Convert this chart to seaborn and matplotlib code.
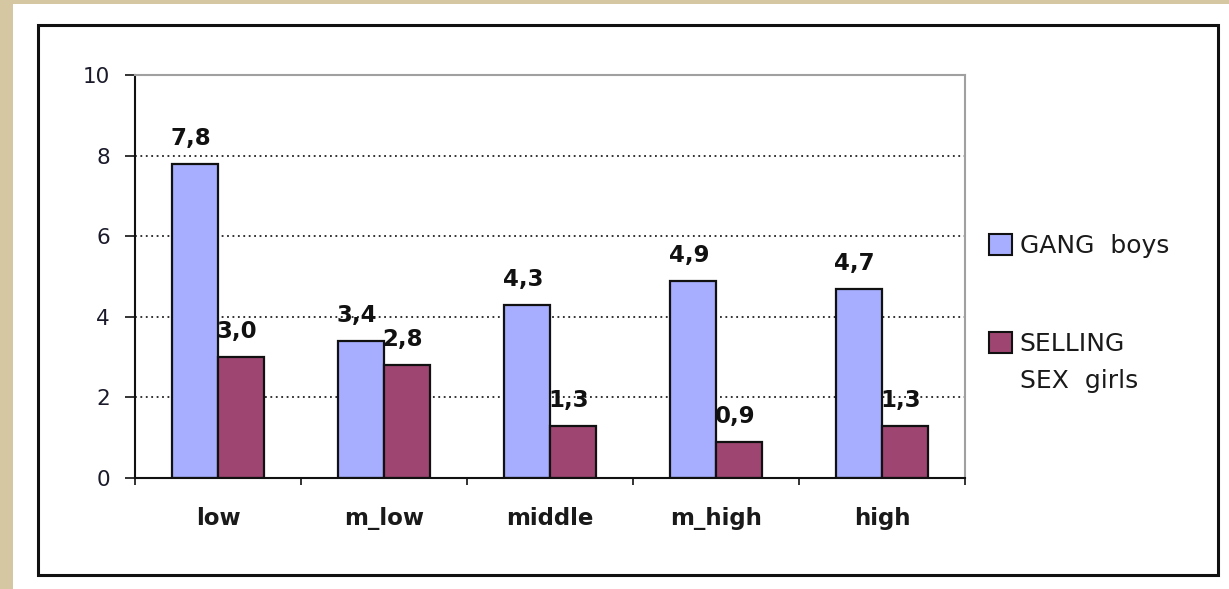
import matplotlib
matplotlib.use("Agg")
import matplotlib.pyplot as plt
import seaborn as sns
import pandas as pd
from matplotlib.patches import Rectangle

categories = ["low", "m_low", "middle", "m_high", "high"]
gang_boys = [7.8, 3.4, 4.3, 4.9, 4.7]
selling_sex_girls = [3.0, 2.8, 1.3, 0.9, 1.3]
series_names = ["GANG  boys", "SELLING"]
series2_second_line = "SEX  girls"
y_ticks = [0, 2, 4, 6, 8, 10]

df = pd.DataFrame({
    "cat": categories * 2,
    "val": gang_boys + selling_sex_girls,
    "series": [series_names[0]] * 5 + [series_names[1]] * 5,
})

sns.set_theme(style="white")
plt.rcParams["font.family"] = ["DejaVu Sans"]

W, H = 1229, 589
fig = plt.figure(figsize=(W / 100, H / 100), dpi=100)
fig.patch.set_facecolor("#d4c7a2")
# white card
fig.patches.append(Rectangle((13 / W, 0), (W - 13) / W, (H - 4) / H,
                             transform=fig.transFigure, facecolor="white",
                             edgecolor="none", zorder=-3))
# black border
fig.patches.append(Rectangle((38 / W, 1 - 575 / H), (1218 - 38) / W, (575 - 25) / H,
                             transform=fig.transFigure, facecolor="none",
                             edgecolor="#111111", linewidth=2.2, zorder=-2))

ax = fig.add_axes([135 / W, 1 - 478 / H, (965 - 135) / W, (478 - 75) / H])
ax.set_facecolor("white")

colors = ["#a7aeff", "#9e4671"]
sns.barplot(data=df, x="cat", y="val", hue="series", palette=colors,
            width=0.555, gap=0, edgecolor="#111111", linewidth=1.6,
            ax=ax, legend=True, saturation=1)

ax.set_ylim(0, 10)
ax.set_xlim(-0.5, 4.5)
ax.set_yticks(y_ticks)
ax.set_yticklabels([str(t) for t in y_ticks], fontsize=15.5, color="#1a1a2a")
ax.set_xlabel("")
ax.set_ylabel("")
ax.tick_params(axis="y", direction="out", length=7, width=1.2, color="#111111", pad=11, left=True)
ax.set_xticks(range(len(categories)))
ax.set_xticklabels(categories, fontsize=16.5, fontweight="bold", color="#1a1a1a")
ax.tick_params(axis="x", length=0, pad=21)
ax.set_xticks([i + 0.5 for i in range(-1, 5)], minor=True)
ax.tick_params(axis="x", which="minor", direction="out", length=5, width=1.2, color="#111111", bottom=True)

for y in [2, 4, 6, 8]:
    ax.axhline(y, color="#222222", linestyle=(0, (1, 2)), linewidth=1.3, zorder=0)

for s in ["left", "bottom"]:
    ax.spines[s].set_color("#111111")
    ax.spines[s].set_linewidth(1.5)
for s in ["top", "right"]:
    ax.spines[s].set_color("#a0a0a0")
    ax.spines[s].set_linewidth(1.5)

for container in ax.containers:
    for bar in container:
        h = bar.get_height()
        ax.annotate(f"{h:.1f}".replace(".", ","),
                    (bar.get_x() + bar.get_width() / 2, h),
                    xytext=(-3, 13.5), textcoords="offset points",
                    ha="center", va="baseline", fontsize=16.5, fontweight="bold",
                    color="#111111", zorder=5)

handles, labels = ax.get_legend_handles_labels()
ax.legend_.remove()
leg = fig.legend(handles, labels, loc="upper left",
                 bbox_to_anchor=(989 / W, 1 - 234 / H), frameon=False,
                 fontsize=18, handlelength=0.92, handleheight=0.92,
                 handletextpad=0.3, labelspacing=2.95, borderaxespad=0,
                 borderpad=0)
for h in leg.legend_handles:
    h.set_edgecolor("#111111")
    h.set_linewidth(1.5)
for t in leg.get_texts():
    t.set_color("#1a1a1a")
fig.text(1020 / W, 1 - 381 / H, series2_second_line, fontsize=18,
         color="#1a1a1a", ha="left", va="center")

fig.savefig("out.png", dpi=100, facecolor=fig.get_facecolor())
